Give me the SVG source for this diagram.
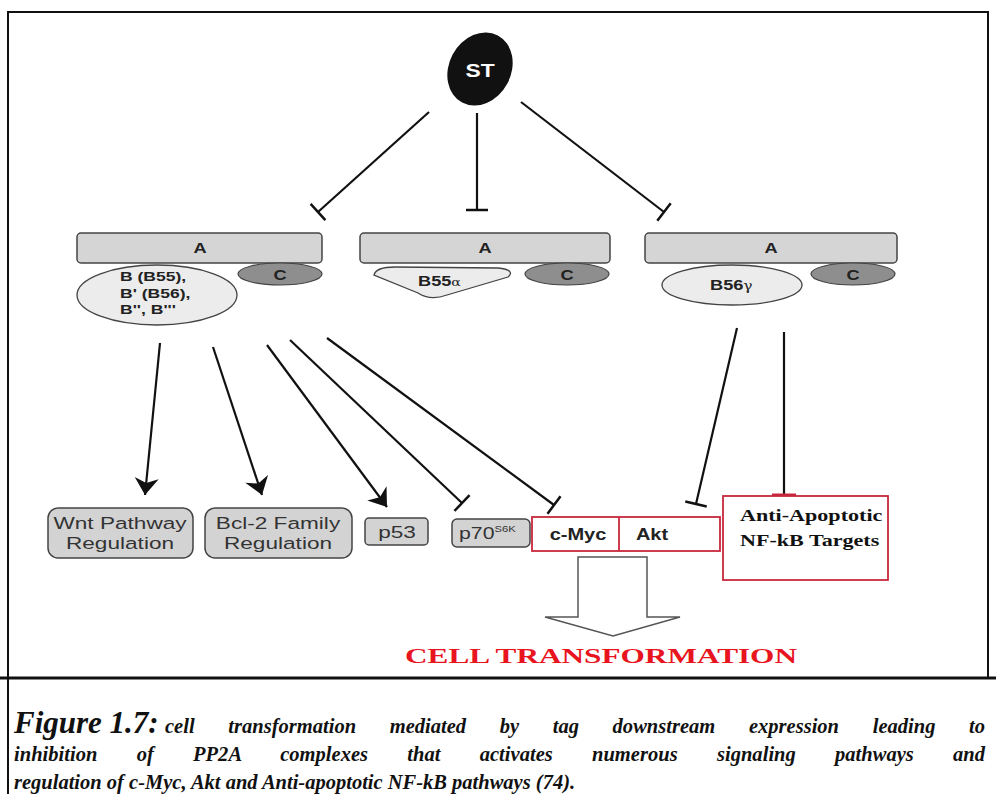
<svg xmlns="http://www.w3.org/2000/svg" width="996" height="794" viewBox="0 0 996 794">
<style>
.abox{fill:#d5d5d5;stroke:#444;stroke-width:1.5}
.cell{fill:#8e8e8e;stroke:#444;stroke-width:1.2}
.bsub{fill:#ececec;stroke:#444;stroke-width:1.3}
.gbox{fill:#d3d3d3;stroke:#444;stroke-width:1.5}
.rbox{fill:#fff;stroke:#c8283c;stroke-width:1.8}
.sans{font-family:"Liberation Sans",Arial,sans-serif;font-weight:bold;fill:#222}
.lbl{font-family:"Liberation Sans",Arial,sans-serif;fill:#333}
.serif{font-family:"Liberation Serif","Times New Roman",serif;font-weight:bold}
.conn line{stroke:#111;stroke-width:2.2;fill:none}
.cap{font-family:"Liberation Serif","Times New Roman",serif;font-weight:bold;font-style:italic;fill:#111}
</style>
<defs>
<marker id="tbar" markerUnits="userSpaceOnUse" viewBox="-15 -15 30 30" markerWidth="30" markerHeight="30" refX="0" refY="0" orient="auto"><line x1="0" y1="-11" x2="0" y2="11" stroke="#111" stroke-width="2.5"/></marker>
<marker id="tbarRed" markerUnits="userSpaceOnUse" viewBox="-15 -15 30 30" markerWidth="30" markerHeight="30" refX="0" refY="0" orient="auto"><line x1="0" y1="-12" x2="0" y2="12" stroke="#c8283c" stroke-width="3"/></marker>
<marker id="arr" markerUnits="userSpaceOnUse" viewBox="-18 -14 19 28" markerWidth="19" markerHeight="28" refX="0" refY="0" orient="auto"><path d="M0,0 L-17,-12 L-12,0 L-17,12 Z" fill="#111"/></marker>
</defs>

<g id="frame" fill="none" stroke="#111">
<rect x="8" y="12" width="980" height="666" stroke-width="2"/>
<line x1="0" y1="678" x2="996" y2="678" stroke-width="3"/>
<line x1="8" y1="678" x2="8" y2="794" stroke-width="2"/>
</g>

<g id="ST">
<ellipse cx="480" cy="69" rx="31" ry="38" transform="rotate(28 480 69)" fill="#111"/>
<text class="sans" font-size="19" text-anchor="middle" transform="translate(480 77) scale(1.2 1)" style="fill:#fff">ST</text>
</g>

<g id="pp2a-left">
<rect class="abox" x="77" y="233" width="245" height="30" rx="4"/>
<text class="sans" font-size="14" text-anchor="middle" transform="translate(200 253) scale(1.3 1)">A</text>
<ellipse class="cell" cx="280" cy="274" rx="42" ry="11"/>
<text class="sans" font-size="14" text-anchor="middle" transform="translate(280 280) scale(1.3 1)">C</text>
<ellipse class="bsub" cx="157" cy="295" rx="80" ry="30"/>
<text class="sans" font-size="13.5" fill="#333" transform="translate(120 0) scale(1.3 1)"><tspan x="0" y="281">B (B55),</tspan><tspan x="0" y="298">B' (B56),</tspan><tspan x="0" y="314">B'', B'''</tspan></text>
</g>

<g id="pp2a-mid">
<rect class="abox" x="360" y="233" width="250" height="30" rx="4"/>
<text class="sans" font-size="14" text-anchor="middle" transform="translate(485 253) scale(1.3 1)">A</text>
<ellipse class="cell" cx="567" cy="274" rx="42" ry="11"/>
<text class="sans" font-size="14" text-anchor="middle" transform="translate(567 280) scale(1.3 1)">C</text>
<path class="bsub" d="M374,275 Q376,267 395,267 L498,268 Q516,270 508,277 L447,295 Q430,301 418,293 Z"/>
<text class="sans" font-size="14" fill="#333" transform="translate(418 286) scale(1.3 1)">B55<tspan font-size="11" font-weight="normal" font-family="DejaVu Serif,serif">α</tspan></text>
</g>

<g id="pp2a-right">
<rect class="abox" x="645" y="233" width="252" height="30" rx="4"/>
<text class="sans" font-size="14" text-anchor="middle" transform="translate(771 253) scale(1.3 1)">A</text>
<ellipse class="cell" cx="853" cy="274" rx="42" ry="11"/>
<text class="sans" font-size="14" text-anchor="middle" transform="translate(853 280) scale(1.3 1)">C</text>
<ellipse class="bsub" cx="732" cy="285" rx="70" ry="20"/>
<text class="sans" font-size="14" fill="#333" transform="translate(710 290) scale(1.3 1)">B56<tspan font-size="12" font-weight="normal" font-family="DejaVu Serif,serif">γ</tspan></text>
</g>

<g id="connectors" class="conn">
<line x1="429" y1="112" x2="318" y2="212" marker-end="url(#tbar)"/>
<line x1="477" y1="113" x2="477" y2="210" marker-end="url(#tbar)"/>
<line x1="521" y1="102" x2="664" y2="212" marker-end="url(#tbar)"/>
<line x1="160" y1="343" x2="145" y2="495" marker-end="url(#arr)"/>
<line x1="213" y1="347" x2="262" y2="495" marker-end="url(#arr)"/>
<line x1="267" y1="345" x2="387" y2="507" marker-end="url(#arr)"/>
<line x1="290" y1="340" x2="462" y2="503" marker-end="url(#tbar)"/>
<line x1="327" y1="338" x2="554" y2="505" marker-end="url(#tbar)"/>
<line x1="737" y1="328" x2="696" y2="504" marker-end="url(#tbar)"/>
<line x1="784" y1="332" x2="784" y2="495" marker-end="url(#tbarRed)"/>
<path d="M578,557 L647,557 L647,617 L680,617 L613,636 L545,617 L578,617 Z" fill="#fff" stroke="#555" stroke-width="1.5"/>
</g>

<g id="wnt">
<rect class="gbox" x="48" y="508" width="145" height="50" rx="10"/>
<text class="lbl" font-size="17" text-anchor="middle" transform="translate(120 529) scale(1.33 1)">Wnt Pathway</text>
<text class="lbl" font-size="17" text-anchor="middle" transform="translate(120 549) scale(1.33 1)">Regulation</text>
</g>
<g id="bcl2">
<rect class="gbox" x="205" y="508" width="147" height="50" rx="10"/>
<text class="lbl" font-size="17" text-anchor="middle" transform="translate(278 529) scale(1.33 1)">Bcl-2 Family</text>
<text class="lbl" font-size="17" text-anchor="middle" transform="translate(278 549) scale(1.33 1)">Regulation</text>
</g>
<g id="p53">
<rect class="gbox" x="365" y="518" width="63" height="27" rx="4"/>
<text class="lbl" font-size="17" text-anchor="middle" transform="translate(397 538) scale(1.33 1)">p53</text>
</g>
<g id="p70">
<rect class="gbox" x="452" y="519" width="78" height="28" rx="5"/>
<text class="lbl" font-size="17" transform="translate(459 539) scale(1.25 1)">p70<tspan font-size="9" dy="-7">S6K</tspan></text>
</g>
<g id="cmyc-akt">
<rect class="rbox" x="532" y="517" width="188" height="34"/>
<line x1="619" y1="517" x2="619" y2="551" stroke="#c8283c" stroke-width="1.8"/>
<text class="sans" font-size="16" text-anchor="middle" transform="translate(578 540) scale(1.25 1)">c-Myc</text>
<text class="sans" font-size="16" text-anchor="middle" transform="translate(652 540) scale(1.25 1)">Akt</text>
</g>
<g id="nfkb">
<rect class="rbox" x="723" y="496" width="165" height="84"/>
<text class="serif" font-size="17" fill="#111" transform="translate(740 521) scale(1.3 1)">Anti-Apoptotic</text>
<text class="serif" font-size="17" fill="#111" transform="translate(740 546) scale(1.3 1)">NF-kB Targets</text>
</g>
<g id="cell-transformation">
<text class="serif" font-size="22" fill="#e8141e" x="405" y="663" textLength="392" lengthAdjust="spacingAndGlyphs">CELL TRANSFORMATION</text>
</g>

<g id="caption" class="cap">
<text x="14" y="733" font-size="31">Figure 1.7:</text>
<text x="165" y="733" font-size="20.5" word-spacing="28.5" textLength="820" lengthAdjust="spacing">cell transformation mediated by tag downstream expression leading to</text>
<text x="14" y="761" font-size="20.5" word-spacing="34" textLength="971" lengthAdjust="spacing">inhibition of PP2A complexes that activates numerous signaling pathways and</text>
<text x="14" y="789" font-size="20.5">regulation of c-Myc, Akt and Anti-apoptotic NF-kB pathways (74).</text>
</g>
</svg>
